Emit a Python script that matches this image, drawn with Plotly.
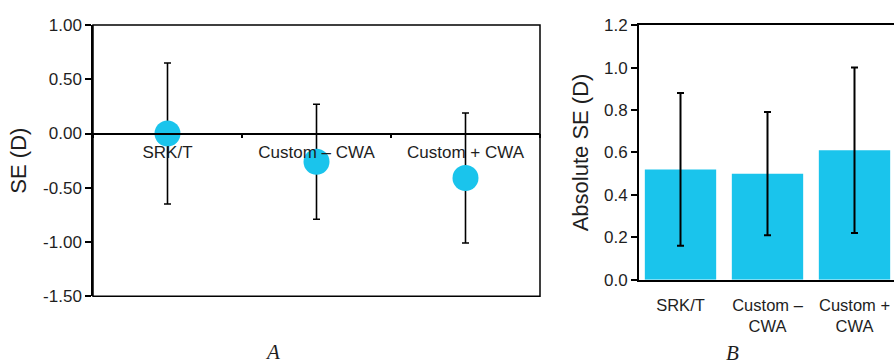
import plotly.graph_objects as go

# Refraction prediction error (SE) by formula
methods = ["SRK/T", "Custom – CWA", "Custom + CWA"]
methods_b = ["SRK/T", "Custom –<br>CWA", "Custom +<br>CWA"]

se_mean = [0.00, -0.26, -0.41]
se_sd = [0.65, 0.53, 0.60]

abs_se_mean = [0.52, 0.50, 0.61]
abs_se_sd = [0.36, 0.29, 0.39]

se_ticks = [-1.5, -1.0, -0.5, 0.0, 0.5, 1.0]
se_ticktext = ["-1.50", "-1.00", "-0.50", "0.00", "0.50", "1.00"]
abs_ticks = [0.0, 0.2, 0.4, 0.6, 0.8, 1.0, 1.2]

CYAN = "#1ac4ec"
INK = "#1e1e1e"
FONT = "Liberation Sans, Arial, sans-serif"

W, H = 894, 364
a_dom_x = [93 / W, 540 / W]
b_dom_x = [639 / W, 1.0]
a_dom_y = [1 - 303 / H, 1 - 17 / H]
b_dom_y = [1 - 285.7 / H, 1 - 17 / H]

se_range = [-1.5, 1.0]
zero_frac = (0 - se_range[0]) / (se_range[1] - se_range[0])
zero_pos = a_dom_y[0] + zero_frac * (a_dom_y[1] - a_dom_y[0])

fig = go.Figure()

# Panel A: mean SE with SD
fig.add_trace(go.Scatter(
    x=methods, y=se_mean, mode="markers",
    marker=dict(size=26, color=CYAN),
    error_y=dict(type="data", array=se_sd, symmetric=True,
                 color="black", thickness=1.6, width=3.5),
    xaxis="x", yaxis="y", showlegend=False,
))

# Panel B: absolute SE with SD
fig.add_trace(go.Bar(
    x=list(range(len(methods_b))), y=abs_se_mean, width=0.82,
    marker=dict(color=CYAN, line=dict(width=0)),
    error_y=dict(type="data", array=abs_se_sd, symmetric=True,
                 color="black", thickness=2, width=3.5),
    xaxis="x2", yaxis="y2", showlegend=False,
))

fig.update_layout(
    width=W, height=H,
    margin=dict(l=0, r=0, t=0, b=0),
    paper_bgcolor="white", plot_bgcolor="white",
    font=dict(family=FONT, color=INK, size=17),
    xaxis=dict(
        domain=a_dom_x, anchor="free", position=zero_pos,
        type="category", range=[-0.5, 2.5],
        showline=True, linecolor="black", linewidth=1.5,
        tickson="boundaries", ticks="outside", ticklen=4, tickwidth=1.5,
        tickcolor="black", showgrid=False, zeroline=False,
        tickfont=dict(size=17), ticklabelstandoff=3,
    ),
    yaxis=dict(
        domain=a_dom_y, anchor="x", range=se_range,
        tickvals=se_ticks, ticktext=se_ticktext,
        ticks="outside", ticklen=6, tickwidth=1.5, tickcolor="black",
        showline=True, linecolor="black", linewidth=1.5,
        showgrid=False, zeroline=False, tickfont=dict(size=17),
        title=dict(text="SE (D)", font=dict(size=22), standoff=10),
    ),
    xaxis2=dict(
        domain=b_dom_x, anchor="y2", range=[-0.477, 2.454],
        tickvals=list(range(len(methods_b))), ticktext=methods_b,
        ticks="", showline=True, linecolor="black", linewidth=2,
        mirror=True, showgrid=False, zeroline=False,
        tickfont=dict(size=16.5), ticklabelstandoff=9,
    ),
    yaxis2=dict(
        domain=b_dom_y, anchor="x2", range=[0, 1.2],
        tickvals=abs_ticks, tickformat=".1f",
        ticks="outside", ticklen=6, tickwidth=2, tickcolor="black",
        showline=True, linecolor="black", linewidth=2,
        showgrid=False, zeroline=False, tickfont=dict(size=17),
        title=dict(text="Absolute SE (D)", font=dict(size=22), standoff=9),
    ),
    shapes=[
        dict(type="rect", xref="x domain", yref="y domain",
             x0=0, x1=1, y0=0, y1=1,
             line=dict(color="black", width=1.5), layer="above"),
    ],
    annotations=[
        dict(text="A", xref="paper", yref="paper", x=272 / W, y=1 - 353 / H,
             showarrow=False, xanchor="center", yanchor="middle", yshift=-8,
             font=dict(family="Liberation Serif, Times New Roman, serif",
                       size=21, color=INK, style="italic")),
        dict(text="B", xref="paper", yref="paper", x=732 / W, y=1 - 354 / H,
             showarrow=False, xanchor="center", yanchor="middle", yshift=-8,
             font=dict(family="Liberation Serif, Times New Roman, serif",
                       size=21, color=INK, style="italic")),
    ],
)

fig.write_html("out.html")
